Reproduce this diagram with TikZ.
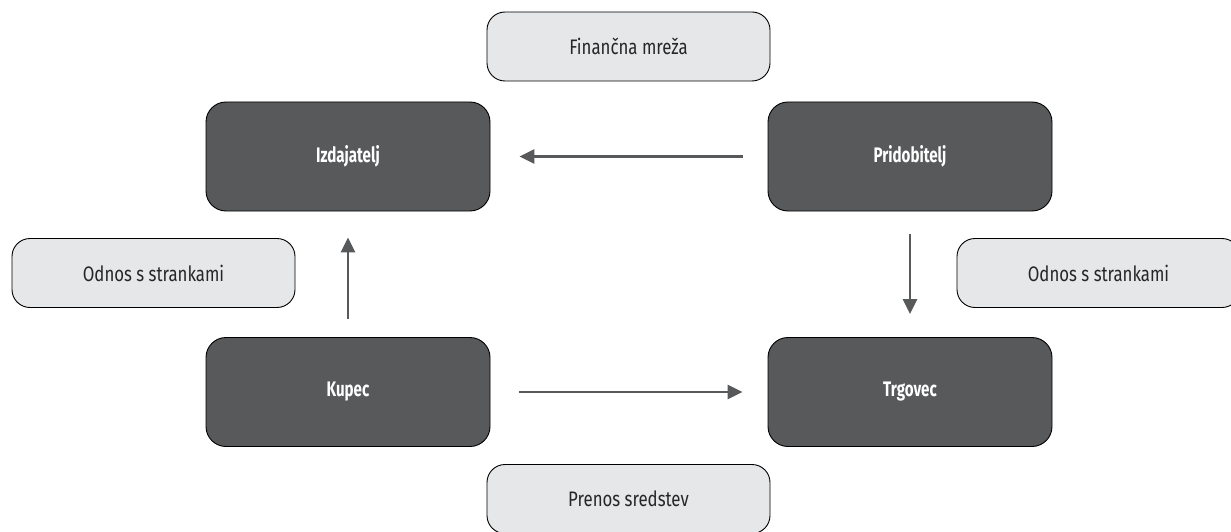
\documentclass[tikz,border=0pt]{standalone}
\usepackage{fontspec}
\setmainfont[FakeStretch=0.8, BoldFeatures={FakeStretch=0.72}]{Fira Sans}
\usetikzlibrary{arrows.meta}
\definecolor{boxdark}{HTML}{58595B}
\definecolor{boxlight}{HTML}{E6E7E8}
\tikzset{
  party/.style={draw=black, line width=0.9pt, fill=boxdark, rounded corners=20pt,
    minimum width=284pt, minimum height=109pt, inner sep=0pt,
    text=white, font=\fontsize{21}{24}\selectfont\bfseries},
  tag/.style={draw=black, line width=0.9pt, fill=boxlight, rounded corners=18pt,
    minimum width=283pt, minimum height=69pt, inner sep=0pt,
    text=black!85, font=\fontsize{21}{24}\selectfont},
  flow/.style={draw=boxdark, line width=2.8pt,
    -{Triangle[length=15pt,width=14pt]}}
}
\begin{document}
\begin{tikzpicture}[x=1pt,y=-1pt]
\clip (0,0) rectangle (1231,532);
\useasboundingbox (0,0) rectangle (1231,532);
% the four parties
\node[party] (izd) at (348,156.5) {Izdajatelj};
\node[party] (pri) at (910,156.5) {Pridobitelj};
\node[party] (kup) at (348,392) {Kupec};
\node[party] (trg) at (910,392) {Trgovec};
% relationship labels
\node[tag] (fin) at (628.5,46.5) {Finančna mreža};
\node[tag] (odl) at (153.5,273) {Odnos s strankami};
\node[tag] (odr) at (1098.5,273) {Odnos s strankami};
\node[tag] (pre) at (628.5,499) {Prenos sredstev};
% flows between the parties
\draw[flow, shorten <=25pt, shorten >=29pt] (pri.west) -- (izd.east);
\draw[flow, shorten <=18pt, shorten >=26pt] (kup.north) -- (izd.south);
\draw[flow, shorten <=23pt, shorten >=23pt] (pri.south) -- (trg.north);
\draw[flow, shorten <=29pt, shorten >=25pt] (kup.east) -- (trg.west);
\end{tikzpicture}
\end{document}
